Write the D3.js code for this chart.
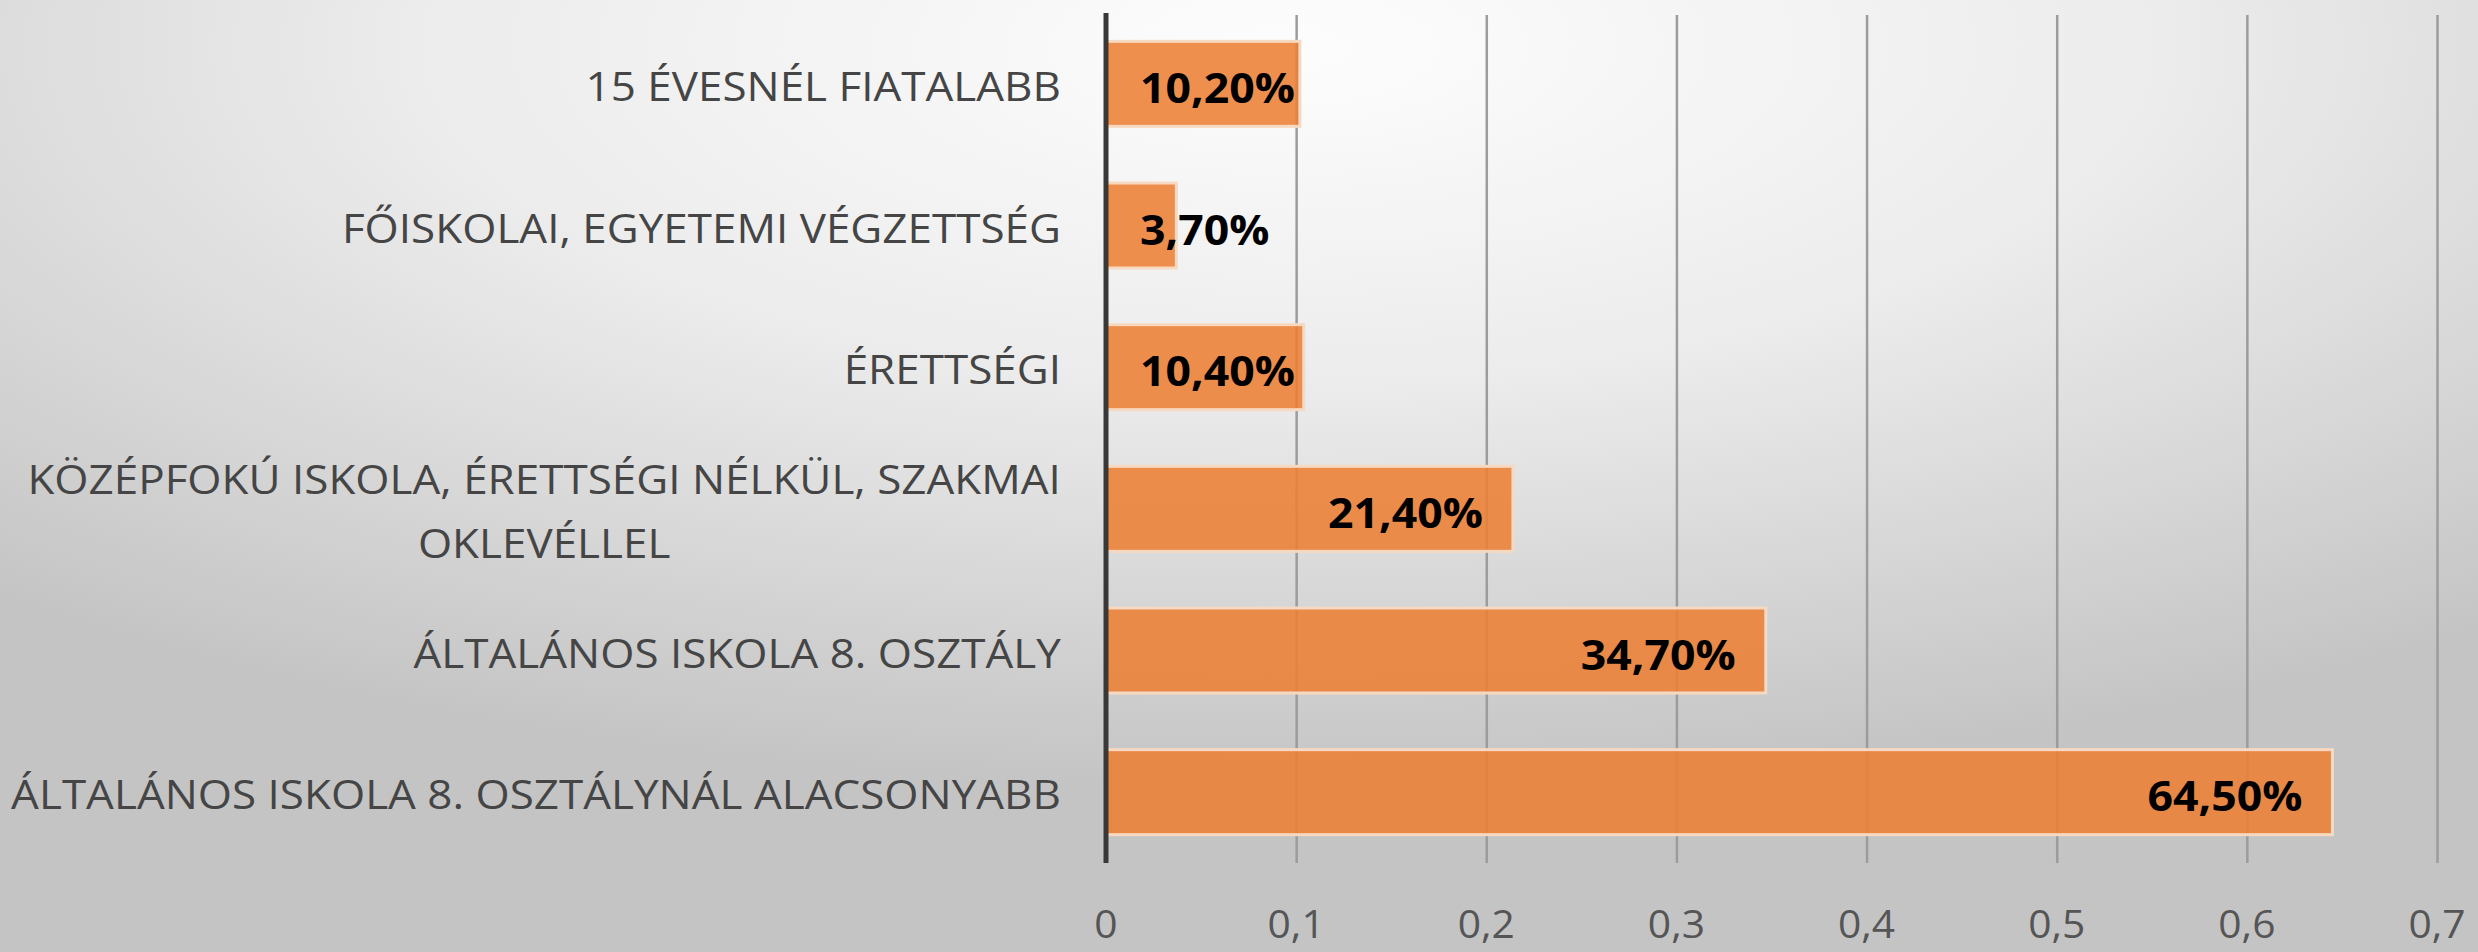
<!DOCTYPE html>
<html>
<head>
<meta charset="utf-8">
<script src="https://cdn.jsdelivr.net/npm/d3@7"></script>
<style>
  html, body { margin: 0; padding: 0; overflow: hidden; }
  svg { display: block; }
</style>
</head>
<body>
<svg id="chart" width="2478" height="952"></svg>
<script>
// ---- data ----
const categories = [
  "15 ÉVESNÉL FIATALABB",
  "FŐISKOLAI, EGYETEMI VÉGZETTSÉG",
  "ÉRETTSÉGI",
  "KÖZÉPFOKÚ ISKOLA, ÉRETTSÉGI NÉLKÜL, SZAKMAI\nOKLEVÉLLEL",
  "ÁLTALÁNOS ISKOLA 8. OSZTÁLY",
  "ÁLTALÁNOS ISKOLA 8. OSZTÁLYNÁL ALACSONYABB"
];
const values = [0.102, 0.037, 0.104, 0.214, 0.347, 0.645];
const valueLabels = ["10,20%", "3,70%", "10,40%", "21,40%", "34,70%", "64,50%"];
const tickValues = [0, 0.1, 0.2, 0.3, 0.4, 0.5, 0.6, 0.7];
const tickLabels = ["0", "0,1", "0,2", "0,3", "0,4", "0,5", "0,6", "0,7"];

// ---- layout ----
const W = 2478, H = 952;
const svg = d3.select("#chart");
const FONT = "'Open Sans', 'DejaVu Sans', sans-serif";

// background gradient
const defs = svg.append("defs");
const rg = defs.append("radialGradient").attr("id", "bg")
  .attr("cx", 0.52).attr("cy", 0.05).attr("r", 0.78).attr("fx", 0.52).attr("fy", 0.05);
rg.append("stop").attr("offset", 0).attr("stop-color", "#fdfdfd");
rg.append("stop").attr("offset", 0.45).attr("stop-color", "#ececec");
rg.append("stop").attr("offset", 1).attr("stop-color", "#c4c4c4");
svg.append("rect").attr("width", W).attr("height", H).attr("fill", "url(#bg)");

const x = d3.scaleLinear().domain([0, 0.7]).range([1106, 2437]);
const y = d3.scaleBand().domain(categories).range([13, 863]).paddingInner(0.4).paddingOuter(0.2);

// gridlines via axis
const grid = svg.append("g").attr("transform", "translate(0,863)")
  .call(d3.axisBottom(x).tickValues(tickValues.slice(1)).tickSize(-848).tickFormat(""));
grid.select(".domain").remove();
grid.selectAll(".tick line").attr("stroke", "#9c9c9c").attr("stroke-width", 2.5);

// bars
svg.append("g").selectAll("rect").data(categories).join("rect")
  .attr("x", x(0))
  .attr("y", d => y(d))
  .attr("width", (d, i) => x(values[i]) - x(0))
  .attr("height", y.bandwidth())
  .attr("fill", "#ec7f36")
  .attr("fill-opacity", 0.88)
  .attr("stroke", "#f7d9c2")
  .attr("stroke-width", 3);

// vertical axis line
svg.append("line").attr("x1", x(0)).attr("x2", x(0)).attr("y1", 13).attr("y2", 863)
  .attr("stroke", "#383838").attr("stroke-width", 5);

// helper to measure text width
function measure(txt, size, weight) {
  const t = svg.append("text").attr("font-family", FONT).attr("font-size", size)
    .attr("font-weight", weight).text(txt);
  const w = t.node().getComputedTextLength();
  t.remove();
  return w;
}

// category labels (condensed)
const catSize = 41;
const allLines = categories.flatMap(c => c.split("\n"));
const maxCatW = d3.max(allLines, l => measure(l, catSize, 400));
const catSx = 1050 / maxCatW;
const labelRight = 1061;
const lineGap = 64;

const catG = svg.append("g");
categories.forEach(c => {
  const lines = c.split("\n");
  const widths = lines.map(l => measure(l, catSize, 400) * catSx);
  const blockW = d3.max(widths);
  const cx = labelRight - blockW / 2;
  const cy = y(c) + y.bandwidth() / 2;
  lines.forEach((l, j) => {
    const base = cy + 17 + (j - (lines.length - 1) / 2) * lineGap;
    catG.append("text")
      .attr("transform", `translate(${cx},${base}) scale(${catSx},1)`)
      .attr("text-anchor", "middle")
      .attr("font-family", FONT).attr("font-size", catSize)
      .attr("fill", "#454545")
      .text(l);
  });
});

// data labels
const valSize = 41;
const valSx = 155 / measure("64,50%", valSize, 700);
const lblG = svg.append("g");
categories.forEach((c, i) => {
  const w = measure(valueLabels[i], valSize, 700) * valSx;
  const right = Math.max(x(values[i]) - 30, x(0) + 34 + w);
  const base = y(c) + y.bandwidth() / 2 + 19;
  lblG.append("text")
    .attr("transform", `translate(${right},${base}) scale(${valSx},1)`)
    .attr("text-anchor", "end")
    .attr("font-family", FONT).attr("font-size", valSize).attr("font-weight", 700)
    .attr("fill", "#000000")
    .text(valueLabels[i]);
});

// tick labels
const tickG = svg.append("g");
tickValues.forEach((v, i) => {
  tickG.append("text")
    .attr("transform", `translate(${x(v)},938) scale(${catSx},1)`)
    .attr("text-anchor", "middle")
    .attr("font-family", FONT).attr("font-size", 38)
    .attr("fill", "#555555")
    .text(tickLabels[i]);
});
</script>
</body>
</html>
